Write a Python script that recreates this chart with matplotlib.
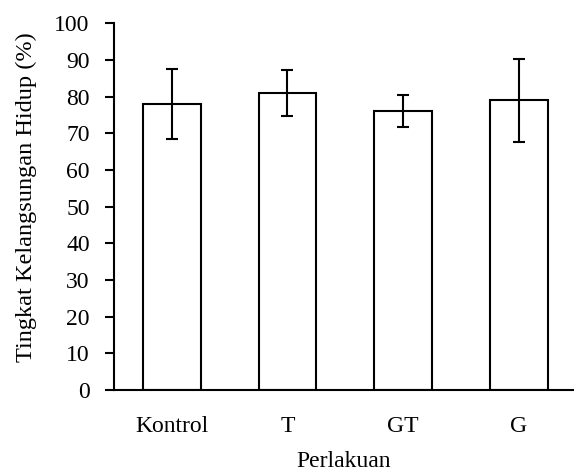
import matplotlib
matplotlib.use("Agg")
import matplotlib.pyplot as plt

categories = ["Kontrol", "T", "GT", "G"]
values = [78, 81, 76, 79]
errors = [9.5, 6.2, 4.4, 11.4]
yticks = [0, 10, 20, 30, 40, 50, 60, 70, 80, 90, 100]

plt.rcParams['font.family'] = ['Liberation Serif', 'DejaVu Serif']
fs = 17

fig = plt.figure(figsize=(5.74, 4.75), dpi=100)
ax = fig.add_axes([114/574, 1-390/475, (574-114)/574, (390-23.3)/475])
x = list(range(len(categories)))
ax.bar(x, values, width=0.5, color='white', edgecolor='black', linewidth=1.5,
       yerr=errors, capsize=4, error_kw=dict(elinewidth=1.5, capthick=1.5, ecolor='black'))
ax.set_xlim(-0.5, (574-114)/115.6 - 0.5)
ax.set_ylim(0, 100)
ax.set_yticks(yticks)
ax.set_yticklabels([str(v) for v in yticks], fontsize=fs)
ax.set_xticks(x)
ax.set_xticklabels(categories, fontsize=fs)
ax.tick_params(axis='x', length=0, pad=19)
ax.tick_params(axis='y', length=6.5, width=1.5, direction='out', pad=11)
for s in ['top', 'right']:
    ax.spines[s].set_visible(False)
for s in ['left', 'bottom']:
    ax.spines[s].set_linewidth(1.5)
ax.set_ylabel("Tingkat Kelangsungan Hidup (%)", fontsize=17.5)
ax.yaxis.set_label_coords((37 - 114) / 460, (390 - 197) / 366.7)
ax.set_xlabel("Perlakuan", fontsize=fs, labelpad=9.5)
fig.savefig("out.png", dpi=100)
